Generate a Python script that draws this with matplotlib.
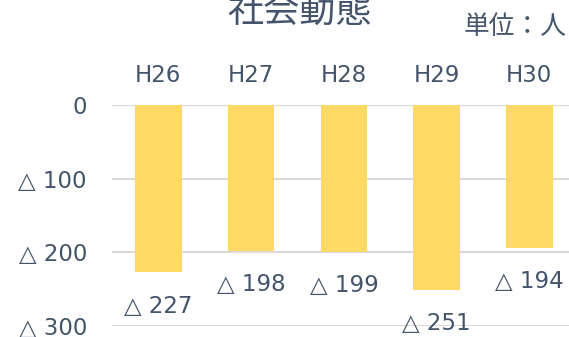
import matplotlib
matplotlib.use("Agg")
import matplotlib.pyplot as plt
from matplotlib.ticker import FuncFormatter

plt.rcParams['font.family'] = ['DejaVu Sans', 'Noto Sans CJK JP']

# 社会動態（転入−転出）, negative = 減少
years = ['H26', 'H27', 'H28', 'H29', 'H30']
social_change = [-227, -198, -199, -251, -194]
y_ticks = [0, -100, -200, -300]

text_color = '#44546A'
bar_color = '#FFD966'
grid_color = '#D9D9D9'


def tri(v):
    # 負の数は「△」で表す
    return '0' if v == 0 else f'△ {abs(v):.0f}'


fig = plt.figure(figsize=(5.69, 3.37), dpi=100)
ax = fig.add_axes([112 / 569, 1 - 326 / 337, 457 / 569, 221 / 337])

x = range(len(years))
bars = ax.bar(x, social_change, width=0.5, color=bar_color, zorder=2)

for xi, v in zip(x, social_change):
    ax.annotate(tri(v), (xi, v), xytext=(0, -24.5), textcoords='offset points',
                ha='center', va='center', fontsize=16.5, color=text_color)

ax.set_ylim(-300, 0)
ax.set_xlim(-0.5, -0.5 + 457 / 92.75)
ax.set_yticks(y_ticks)
ax.yaxis.set_major_formatter(FuncFormatter(lambda v, p: tri(v)))
ax.set_xticks(list(x))
ax.set_xticklabels(years)
ax.xaxis.tick_top()
ax.tick_params(axis='x', length=0, pad=13, labelsize=16.5, labelcolor=text_color)
ax.tick_params(axis='y', length=0, pad=18, labelsize=16.5, labelcolor=text_color)
ax.grid(axis='y', color=grid_color, linewidth=1.5, zorder=0)
ax.set_axisbelow(True)
for s in ax.spines.values():
    s.set_visible(False)

fig.text(299 / 569, 1 - 12 / 337, '社会動態', ha='center', va='center',
         fontsize=26, color=text_color)
fig.text(567 / 569, 1 - 27.5 / 337, '単位：人', ha='right', va='center',
         fontsize=18.5, color=text_color)

fig.savefig('out.png', dpi=100)
